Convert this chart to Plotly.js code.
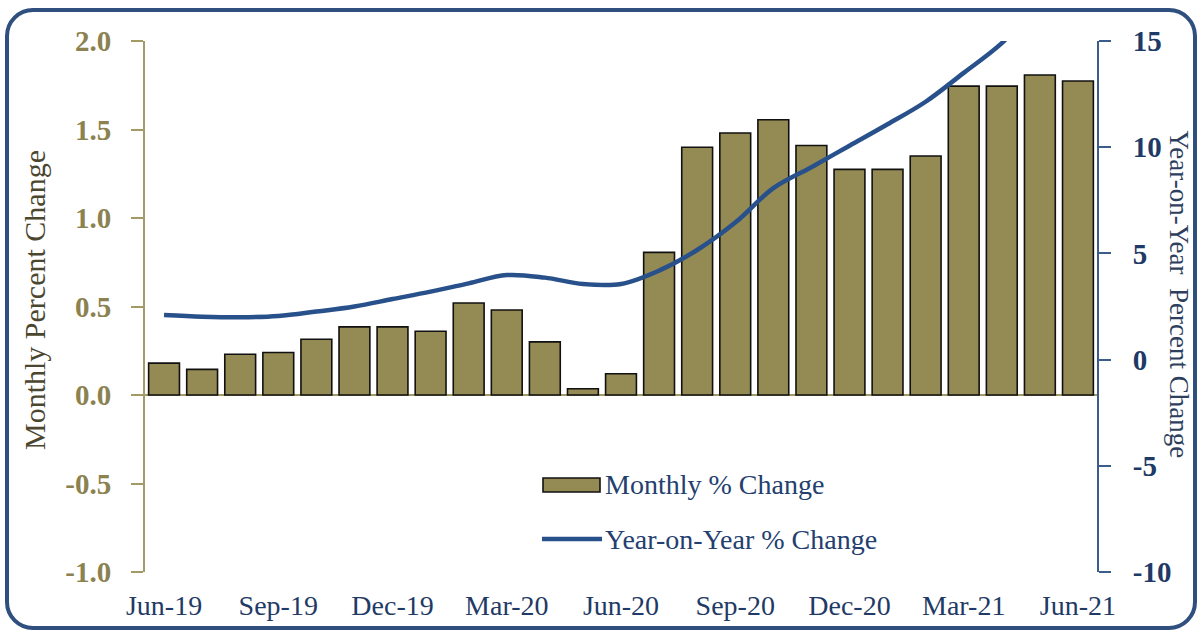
<!DOCTYPE html>
<html>
<head>
<meta charset="utf-8">
<script src="https://cdn.plot.ly/plotly-3.0.1.min.js"></script>
<style>
  html, body { margin: 0; padding: 0; background: #ffffff; }
  #chart { position: absolute; left: 0; top: 0; width: 1199px; height: 631px; }
  #frame { position: absolute; left: 5px; top: 8px; width: 1192px; height: 622px;
           box-sizing: border-box; border: 4px solid #2F4F7F; border-radius: 28px;
           pointer-events: none; }
</style>
</head>
<body>
<div id="chart"></div>
<div id="frame"></div>
<script>
const months = ["Jun-19","Jul-19","Aug-19","Sep-19","Oct-19","Nov-19","Dec-19",
  "Jan-20","Feb-20","Mar-20","Apr-20","May-20","Jun-20","Jul-20","Aug-20","Sep-20",
  "Oct-20","Nov-20","Dec-20","Jan-21","Feb-21","Mar-21","Apr-21","May-21","Jun-21"];
const monthlyChange = [0.18, 0.145, 0.23, 0.24, 0.315, 0.385, 0.385, 0.36, 0.52, 0.48,
  0.30, 0.035, 0.12, 0.806, 1.40, 1.48, 1.555, 1.41, 1.275, 1.275, 1.35, 1.745, 1.745,
  1.808, 1.774];
const yoyChange = [2.1, 2.02, 1.99, 2.05, 2.26, 2.5, 2.85, 3.2, 3.59, 3.98, 3.86, 3.56,
  3.56, 4.19, 5.16, 6.45, 8.07, 9.06, 10.07, 11.08, 12.14, 13.5, 14.9, 16.8, 18.0];
const xTickLabels = ["Jun-19","Sep-19","Dec-19","Mar-20","Jun-20","Sep-20","Dec-20","Mar-21","Jun-21"];
const leftTicks = [-1.0, -0.5, 0.0, 0.5, 1.0, 1.5, 2.0];
const rightTicks = [-10, -5, 0, 5, 10, 15];
const seriesNames = ["Monthly % Change", "Year-on-Year % Change"];
const leftTitle = "Monthly Percent Change";
const rightTitle = "Year-on-Year\u00a0 Percent Change";

const OLIVE = "#948A54";
const OLIVE_AX = "#A39A66";
const OLIVE_TXT = "#8C8250";
const BLUE = "#28508A";
const BLUE_AX = "#3A5D8C";
const BLUE_TXT = "#1F3A66";
const SERIF = "Liberation Serif, Times New Roman, serif";

const traces = [
  {
    type: "bar", x: months, y: monthlyChange, name: seriesNames[0],
    marker: { color: OLIVE, line: { color: "#111111", width: 1.6 } },
    yaxis: "y", showlegend: false, hoverinfo: "x+y"
  },
  {
    type: "scatter", mode: "lines", x: months, y: yoyChange, name: seriesNames[1],
    line: { color: BLUE, width: 4.5, shape: "spline", smoothing: 1 },
    yaxis: "y2", showlegend: false
  }
];

const layout = {
  width: 1199, height: 631,
  margin: { l: 145, r: 102, t: 41, b: 59 },
  paper_bgcolor: "rgba(0,0,0,0)", plot_bgcolor: "rgba(0,0,0,0)",
  bargap: 0.19,
  showlegend: false,
  xaxis: {
    type: "category", categoryorder: "array", categoryarray: months,
    range: [-0.5, 24.5],
    tickmode: "array", tickvals: xTickLabels, ticktext: xTickLabels,
    ticks: "", showline: false, showgrid: false, zeroline: false,
    ticklabelstandoff: 14,
    tickfont: { family: SERIF, size: 28, color: BLUE_TXT }
  },
  yaxis: {
    range: [-1, 2], tickmode: "array", tickvals: leftTicks,
    ticktext: leftTicks.map(v => v.toFixed(1)),
    ticks: "outside", ticklen: 12, tickwidth: 2, tickcolor: OLIVE_AX,
    showline: true, linecolor: OLIVE_AX, linewidth: 2,
    showgrid: false, zeroline: true, zerolinecolor: OLIVE_AX, zerolinewidth: 2,
    ticklabelstandoff: 14,
    tickfont: { family: SERIF, size: 29, color: OLIVE_TXT, weight: "bold" }
  },
  yaxis2: {
    range: [-10, 15], overlaying: "y", side: "right",
    tickmode: "array", tickvals: rightTicks, ticktext: rightTicks.map(String),
    ticks: "outside", ticklen: 12, tickwidth: 2, tickcolor: BLUE_AX,
    showline: true, linecolor: BLUE_AX, linewidth: 2,
    showgrid: false, zeroline: false,
    ticklabelstandoff: 16,
    tickfont: { family: SERIF, size: 29, color: BLUE_TXT, weight: "bold" }
  },
  shapes: [
    { type: "rect", xref: "paper", yref: "paper",
      x0: (543 - 145) / 952, x1: (600 - 145) / 952,
      y0: (572 - 492) / 531, y1: (572 - 478) / 531,
      fillcolor: OLIVE, line: { color: "#111111", width: 1.6 } },
    { type: "line", xref: "paper", yref: "paper",
      x0: (542 - 145) / 952, x1: (602 - 145) / 952,
      y0: (572 - 539) / 531, y1: (572 - 539) / 531,
      line: { color: BLUE, width: 4.5 } }
  ],
  annotations: [
    { xref: "paper", yref: "paper", x: (603 - 145) / 952, y: (572 - 484) / 531,
      xanchor: "left", yanchor: "middle", showarrow: false, text: seriesNames[0],
      font: { family: SERIF, size: 28, color: "#23406E" } },
    { xref: "paper", yref: "paper", x: (603 - 145) / 952, y: (572 - 539) / 531,
      xanchor: "left", yanchor: "middle", showarrow: false, text: seriesNames[1],
      font: { family: SERIF, size: 28, color: "#23406E" } },
    { xref: "paper", yref: "paper", x: (34 - 145) / 952, y: (572 - 300) / 531,
      xanchor: "center", yanchor: "middle", showarrow: false, textangle: -90,
      text: leftTitle, font: { family: SERIF, size: 30, color: "#4B4630" } },
    { xref: "paper", yref: "paper", x: (1179 - 145) / 952, y: (572 - 294.5) / 531,
      xanchor: "center", yanchor: "middle", showarrow: false, textangle: 90,
      text: rightTitle, font: { family: SERIF, size: 27, color: "#2E3F5E" } }
  ]
};

Plotly.newPlot("chart", traces, layout, { displayModeBar: false, staticPlot: true });
</script>
</body>
</html>
